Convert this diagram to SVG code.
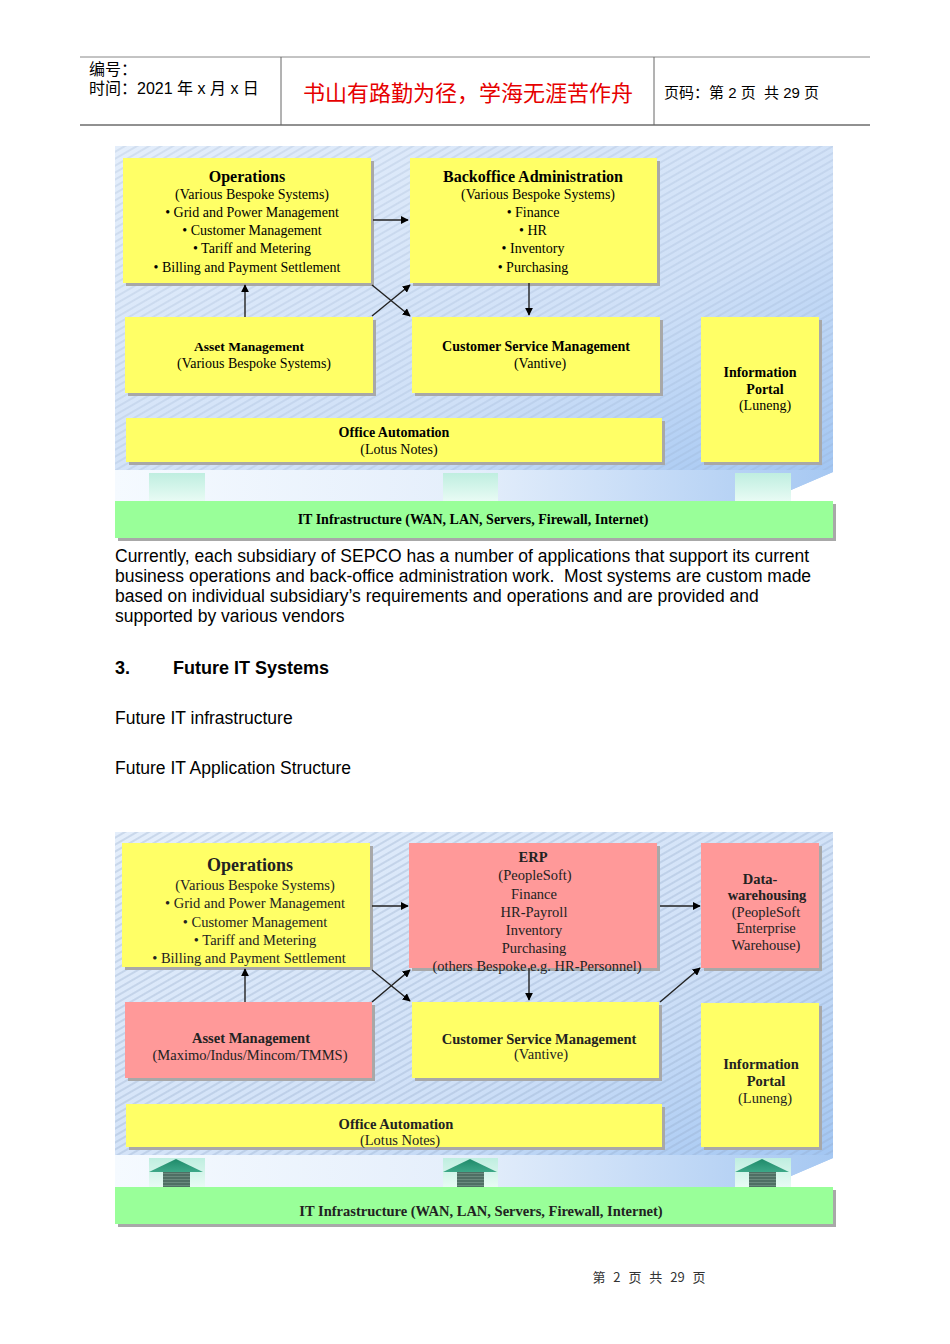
<svg xmlns="http://www.w3.org/2000/svg" width="950" height="1344" viewBox="0 0 950 1344">
<defs>
<style>
.hdr{font-family:"Liberation Sans","Noto Sans CJK SC",sans-serif;font-size:15px;fill:#000}
.red{font-family:"Noto Sans CJK SC",sans-serif;font-size:22px;fill:#e60000}
.body{font-family:"Liberation Sans",Arial,sans-serif;font-size:17.5px;fill:#000}
.h3{font-family:"Liberation Sans",Arial,sans-serif;font-size:18px;font-weight:bold;fill:#000}
.t{font-family:"Liberation Serif","Times New Roman",serif;font-size:14px;fill:#000;text-anchor:middle}
.tb{font-family:"Liberation Serif","Times New Roman",serif;font-size:14px;font-weight:bold;fill:#000;text-anchor:middle}
.tt{font-family:"Liberation Serif","Times New Roman",serif;font-size:16px;font-weight:bold;fill:#000;text-anchor:middle}
.t2{font-family:"Liberation Serif","Times New Roman",serif;font-size:14.5px;fill:#222;text-anchor:middle}
.tb2{font-family:"Liberation Serif","Times New Roman",serif;font-size:14.5px;font-weight:bold;fill:#222;text-anchor:middle}
.tt2{font-family:"Liberation Serif","Times New Roman",serif;font-size:18px;font-weight:bold;fill:#222;text-anchor:middle}
.y{fill:#ffff66}
.p{fill:#ff9999}
.g{fill:#99ff99}
.sh{fill:#a8a8a8}
.conn{stroke:#222;stroke-width:1.4;fill:none}
.foot{font-family:"Noto Sans CJK SC",sans-serif;font-size:13px;fill:#333;text-anchor:middle;word-spacing:5px}
</style>
<linearGradient id="bg" x1="0" y1="0" x2="1" y2="1">
<stop offset="0" stop-color="#e4eefb"/>
<stop offset="0.6" stop-color="#cfe0f7"/>
<stop offset="1" stop-color="#9dc3f2"/>
</linearGradient>
<linearGradient id="band" x1="0" y1="0" x2="1" y2="0">
<stop offset="0" stop-color="#f5faff"/>
<stop offset="0.5" stop-color="#e4eefb"/>
<stop offset="1" stop-color="#a6c8f2"/>
</linearGradient>
<pattern id="hatch" width="6" height="6" patternUnits="userSpaceOnUse" patternTransform="rotate(-30)">
<line x1="0" y1="3" x2="6" y2="3" stroke="#8fa6c6" stroke-width="0.8" opacity="0.55"/>
</pattern>
<linearGradient id="pil" x1="0" y1="0" x2="0" y2="1">
<stop offset="0" stop-color="#bfeee0"/>
<stop offset="1" stop-color="#e8fbf4"/>
</linearGradient>
<linearGradient id="ahead" x1="0" y1="0" x2="0" y2="1">
<stop offset="0" stop-color="#1f8a6a"/>
<stop offset="1" stop-color="#3da888"/>
</linearGradient>
<pattern id="shaft" width="4" height="3" patternUnits="userSpaceOnUse">
<rect width="4" height="3" fill="#4f6f64"/>
<rect width="4" height="1" fill="#6a8a7e"/>
</pattern>
<marker id="ah" viewBox="0 0 10 10" refX="9" refY="5" markerWidth="8" markerHeight="8" markerUnits="userSpaceOnUse" orient="auto">
<path d="M0,0 L10,5 L0,10 z" fill="#000"/>
</marker>
</defs>
<rect width="950" height="1344" fill="#fff"/>

<g id="header">
<line x1="80" y1="57" x2="870" y2="57" stroke="#888" stroke-width="1"/>
<line x1="80" y1="125" x2="870" y2="125" stroke="#222" stroke-width="1"/>
<line x1="281" y1="57" x2="281" y2="125" stroke="#666" stroke-width="1"/>
<line x1="654" y1="57" x2="654" y2="125" stroke="#666" stroke-width="1"/>
<text class="hdr" x="89" y="75" style="font-size:16px">编号：</text>
<text class="hdr" x="89" y="94" style="font-size:16px">时间：2021 年 x 月 x 日</text>
<text class="red" x="468" y="101" text-anchor="middle">书山有路勤为径，学海无涯苦作舟</text>
<text class="hdr" x="664" y="98">页码：第 2 页 &#160;共 29 页</text>
</g>

<!-- Diagram 1 -->
<g id="panel1">
<polygon points="115,146 833,146 833,472 791,490 791,501 115,501" fill="url(#bg)"/>
<polygon points="115,146 833,146 833,470 115,470" fill="url(#hatch)"/>
<polygon points="115,470 833,470 833,472 791,490 791,501 115,501" fill="url(#band)"/>
<rect x="149" y="473" width="56" height="28" fill="url(#pil)"/>
<rect x="443" y="473" width="55" height="28" fill="url(#pil)"/>
<rect x="735" y="473" width="56" height="28" fill="url(#pil)"/>
</g>

<g id="d1-ops">
<rect class="sh" x="126" y="161" width="248" height="125"/>
<rect class="y" x="123" y="158" width="248" height="125"/>
<text x="247" y="182" class="tt">Operations</text>
<text x="252" y="199" class="t">(Various Bespoke Systems)</text>
<text x="252" y="217" class="t">• Grid and Power Management</text>
<text x="252" y="235" class="t">• Customer Management</text>
<text x="252" y="253" class="t">• Tariff and Metering</text>
<text x="247" y="272" class="t">• Billing and Payment Settlement</text>
</g>
<g id="d1-backoffice">
<rect class="sh" x="413" y="161" width="247" height="125"/>
<rect class="y" x="410" y="158" width="247" height="125"/>
<text x="533" y="182" class="tt">Backoffice Administration</text>
<text x="538" y="199" class="t">(Various Bespoke Systems)</text>
<text x="533" y="217" class="t">• Finance</text>
<text x="533" y="235" class="t">• HR</text>
<text x="533" y="253" class="t">• Inventory</text>
<text x="533" y="272" class="t">• Purchasing</text>
</g>
<g id="d1-asset">
<rect class="sh" x="128" y="320" width="248" height="76"/>
<rect class="y" x="125" y="317" width="248" height="76"/>
<text x="249" y="351" class="tb" style="font-size:13.5px">Asset Management</text>
<text x="254" y="368" class="t">(Various Bespoke Systems)</text>
</g>
<g id="d1-csm">
<rect class="sh" x="415" y="320" width="248" height="76"/>
<rect class="y" x="412" y="317" width="248" height="76"/>
<text x="536" y="351" class="tb">Customer Service Management</text>
<text x="540" y="368" class="t">(Vantive)</text>
</g>
<g id="d1-portal">
<rect class="sh" x="704" y="320" width="118" height="145"/>
<rect class="y" x="701" y="317" width="118" height="145"/>
<text x="760" y="377" class="tb">Information</text>
<text x="765" y="394" class="tb">Portal</text>
<text x="765" y="410" class="t">(Luneng)</text>
</g>
<g id="d1-office">
<rect class="sh" x="129" y="421" width="536" height="44"/>
<rect class="y" x="126" y="418" width="536" height="44"/>
<text x="394" y="437" class="tb">Office Automation</text>
<text x="399" y="454" class="t">(Lotus Notes)</text>
</g>
<g id="d1-it">
<rect class="sh" x="118" y="504" width="718" height="37"/>
<rect class="g" x="115" y="501" width="718" height="37"/>
<text x="473" y="524" class="tb">IT Infrastructure (WAN, LAN, Servers, Firewall, Internet)</text>
</g>
<g id="d1-connectors">
<line class="conn" x1="373" y1="220" x2="408" y2="220" marker-end="url(#ah)"/>
<line class="conn" x1="245" y1="317" x2="245" y2="285" marker-end="url(#ah)"/>
<line class="conn" x1="372" y1="285" x2="410" y2="316" marker-end="url(#ah)"/>
<line class="conn" x1="372" y1="316" x2="410" y2="285" marker-end="url(#ah)"/>
<line class="conn" x1="529" y1="283" x2="529" y2="315" marker-end="url(#ah)"/>
</g>

<g id="text">
<text class="body" x="115" y="562">Currently, each subsidiary of SEPCO has a number of applications that support its current</text>
<text class="body" x="115" y="582">business operations and back-office administration work. &#160;Most systems are custom made</text>
<text class="body" x="115" y="602">based on individual subsidiary’s requirements and operations and are provided and</text>
<text class="body" x="115" y="622">supported by various vendors</text>
<text class="h3" x="115" y="674">3.</text>
<text class="h3" x="173" y="674">Future IT Systems</text>
<text class="body" x="115" y="724">Future IT infrastructure</text>
<text class="body" x="115" y="774">Future IT Application Structure</text>
</g>

<!-- Diagram 2 -->
<g id="panel2">
<polygon points="115,832 833,832 833,1158 791,1176 791,1187 115,1187" fill="url(#bg)"/>
<polygon points="115,832 833,832 833,1155 115,1155" fill="url(#hatch)"/>
<polygon points="115,832 833,832 833,1155 115,1155" fill="url(#hatch)" opacity="0.6"/>
<polygon points="115,1155 833,1155 833,1158 791,1176 791,1187 115,1187" fill="url(#band)"/>
</g>
<g id="d2-uparrows">
<rect x="149" y="1158" width="56" height="29" fill="url(#pil)"/>
<polygon points="176,1159 149,1172 203,1172" fill="url(#ahead)"/>
<rect x="163" y="1172" width="27" height="15" fill="url(#shaft)"/>
<rect x="443" y="1158" width="55" height="29" fill="url(#pil)"/>
<polygon points="470,1159 443,1172 497,1172" fill="url(#ahead)"/>
<rect x="457" y="1172" width="27" height="15" fill="url(#shaft)"/>
<rect x="735" y="1158" width="56" height="29" fill="url(#pil)"/>
<polygon points="762,1159 735,1172 789,1172" fill="url(#ahead)"/>
<rect x="749" y="1172" width="27" height="15" fill="url(#shaft)"/>
</g>
<g id="d2-ops">
<rect class="sh" x="125" y="846" width="248" height="124"/>
<rect class="y" x="122" y="843" width="248" height="124"/>
<text x="250" y="871" class="tt2">Operations</text>
<text x="255" y="890" class="t2">(Various Bespoke Systems)</text>
<text x="255" y="908" class="t2">• Grid and Power Management</text>
<text x="255" y="927" class="t2">• Customer Management</text>
<text x="255" y="945" class="t2">• Tariff and Metering</text>
<text x="249" y="963" class="t2">• Billing and Payment Settlement</text>
</g>
<g id="d2-erp">
<rect class="sh" x="412" y="846" width="248" height="125"/>
<rect class="p" x="409" y="843" width="248" height="125"/>
<text x="533" y="862" class="tb2">ERP</text>
<text x="535" y="880" class="t2">(PeopleSoft)</text>
<text x="534" y="899" class="t2">Finance</text>
<text x="534" y="917" class="t2">HR-Payroll</text>
<text x="534" y="935" class="t2">Inventory</text>
<text x="534" y="953" class="t2">Purchasing</text>
<text x="537" y="971" class="t2">(others Bespoke e.g. HR-Personnel)</text>
</g>
<g id="d2-dw">
<rect class="sh" x="704" y="846" width="118" height="125"/>
<rect class="p" x="701" y="843" width="118" height="125"/>
<text x="760" y="884" class="tb2">Data-</text>
<text x="767" y="900" class="tb2">warehousing</text>
<text x="766" y="917" class="t2">(PeopleSoft</text>
<text x="766" y="933" class="t2">Enterprise</text>
<text x="766" y="950" class="t2">Warehouse)</text>
</g>
<g id="d2-asset">
<rect class="sh" x="128" y="1005" width="247" height="76"/>
<rect class="p" x="125" y="1002" width="247" height="76"/>
<text x="251" y="1043" class="tb2">Asset Management</text>
<text x="250" y="1060" class="t2">(Maximo/Indus/Mincom/TMMS)</text>
</g>
<g id="d2-csm">
<rect class="sh" x="415" y="1005" width="247" height="76"/>
<rect class="y" x="412" y="1002" width="247" height="76"/>
<text x="539" y="1044" class="tb2">Customer Service Management</text>
<text x="541" y="1059" class="t2">(Vantive)</text>
</g>
<g id="d2-portal">
<rect class="sh" x="704" y="1006" width="118" height="144"/>
<rect class="y" x="701" y="1003" width="118" height="144"/>
<text x="761" y="1069" class="tb2">Information</text>
<text x="766" y="1086" class="tb2">Portal</text>
<text x="765" y="1103" class="t2">(Luneng)</text>
</g>
<g id="d2-office">
<rect class="sh" x="129" y="1107" width="536" height="43"/>
<rect class="y" x="126" y="1104" width="536" height="43"/>
<text x="396" y="1129" class="tb2">Office Automation</text>
<text x="400" y="1145" class="t2">(Lotus Notes)</text>
</g>
<g id="d2-it">
<rect class="sh" x="118" y="1190" width="718" height="37"/>
<rect class="g" x="115" y="1187" width="718" height="37"/>
<text x="481" y="1216" class="tb2">IT Infrastructure (WAN, LAN, Servers, Firewall, Internet)</text>
</g>
<g id="d2-connectors">
<line class="conn" x1="372" y1="906" x2="408" y2="906" marker-end="url(#ah)"/>
<line class="conn" x1="245" y1="1002" x2="245" y2="969" marker-end="url(#ah)"/>
<line class="conn" x1="372" y1="1002" x2="410" y2="970" marker-end="url(#ah)"/>
<line class="conn" x1="372" y1="970" x2="410" y2="1001" marker-end="url(#ah)"/>
<line class="conn" x1="529" y1="968" x2="529" y2="1000" marker-end="url(#ah)"/>
<line class="conn" x1="660" y1="906" x2="700" y2="906" marker-end="url(#ah)"/>
<line class="conn" x1="660" y1="1002" x2="700" y2="968" marker-end="url(#ah)"/>
</g>

<g id="footer">
<text class="foot" x="649" y="1282">第 2 页 共 29 页</text>
</g>
</svg>
